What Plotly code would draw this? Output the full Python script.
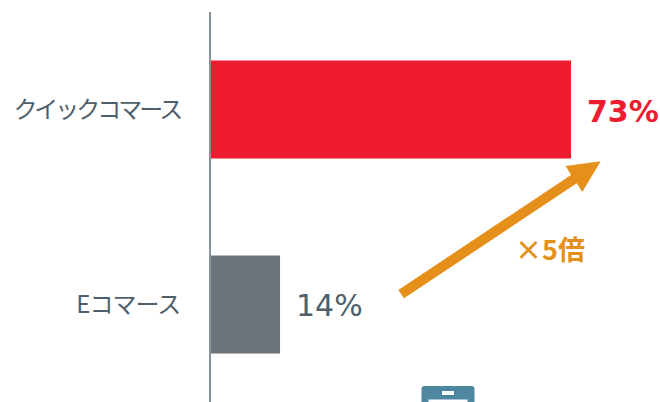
import plotly.graph_objects as go

categories = ["クイックコマース", "Eコマース"]
shares = [73, 14]
share_labels = ["73%", "14%"]
bar_colors = ["#EE1C2E", "#6A747A"]
label_colors = ["#EE1C2E", "#4E5F6B"]
label_weights = ["bold", "normal"]
multiplier_label = "×5倍"
category_tracking = ["-3px", "-1px"]

WIDTH, HEIGHT = 660, 402
LEFT, TOP = 211, 12
PLOT_W, PLOT_H = WIDTH - LEFT, HEIGHT - TOP
PX_PER_PERCENT = 4.932


def px(x):
    return (x - LEFT) / PLOT_W


def py(y):
    return 1 - (y - TOP) / PLOT_H


def polygon(points):
    return "M" + " L".join(f"{px(x):.5f},{py(y):.5f}" for x, y in points) + " Z"


def rounded_top(x0, x1, y0, y1, r):
    return (
        f"M{px(x0):.5f},{py(y1):.5f} L{px(x0):.5f},{py(y0 + r):.5f} "
        f"Q{px(x0):.5f},{py(y0):.5f} {px(x0 + r):.5f},{py(y0):.5f} "
        f"L{px(x1 - r):.5f},{py(y0):.5f} "
        f"Q{px(x1):.5f},{py(y0):.5f} {px(x1):.5f},{py(y0 + r):.5f} "
        f"L{px(x1):.5f},{py(y1):.5f} Z"
    )


# Growth arrow between the two bars
arrow_outline = [
    (398.3, 290), (571, 175), (565.7, 166), (600.7, 161.3),
    (582.3, 192), (576.7, 183.3), (404, 298.3),
]

shapes = [
    dict(type="path", xref="paper", yref="paper", path=polygon(arrow_outline),
         fillcolor="#E5901A", line_width=0, layer="above"),
    # Top edge of the smartphone icon, cut off by the page bottom
    dict(type="path", xref="paper", yref="paper",
         path=rounded_top(421.5, 474.5, 386, 404, 3),
         fillcolor="#4F86A0", line_width=0, layer="above"),
    dict(type="rect", xref="paper", yref="paper",
         x0=px(442), x1=px(454), y0=py(395), y1=py(391),
         fillcolor="white", line_width=0, layer="above"),
    dict(type="rect", xref="paper", yref="paper",
         x0=px(428.5), x1=px(467.5), y0=py(404), y1=py(399.5),
         fillcolor="white", line_width=0, layer="above"),
]

annotations = [
    dict(x=v, y=c, xref="x", yref="y", text=t, showarrow=False,
         xanchor="left", xshift=14, yshift=-1 if w == "normal" else -2,
         font=dict(family="DejaVu Sans", size=30, color=col, weight=w))
    for v, c, t, col, w in zip(shares, categories, share_labels,
                               label_colors, label_weights)
]
annotations.append(
    dict(x=px(550), y=py(250), xref="paper", yref="paper", text=multiplier_label,
         showarrow=False, xanchor="center", yanchor="middle", yshift=2,
         font=dict(family="Noto Sans CJK JP, DejaVu Sans", size=27,
                   color="#E5901A", weight="bold"))
)

# Tighter tracking on the axis labels, set per label
tick_labels = [
    f'<span style="letter-spacing:{s}">{c}</span>'
    for c, s in zip(categories, category_tracking)
]

fig = go.Figure(
    go.Bar(
        x=shares,
        y=categories,
        orientation="h",
        marker=dict(color=bar_colors, line_width=0),
        hoverinfo="skip",
    )
)
fig.update_layout(
    width=WIDTH,
    height=HEIGHT,
    margin=dict(l=LEFT, r=0, t=TOP, b=0, pad=0),
    paper_bgcolor="white",
    plot_bgcolor="white",
    showlegend=False,
    bargap=0.497,
    shapes=shapes,
    annotations=annotations,
    xaxis=dict(range=[0, PLOT_W / PX_PER_PERCENT], visible=False),
    yaxis=dict(
        autorange="reversed",
        showline=True,
        linecolor="#87929A",
        linewidth=2,
        showgrid=False,
        ticks="",
        tickmode="array",
        tickvals=categories,
        ticktext=tick_labels,
        ticklabelstandoff=24,
        tickfont=dict(family="Noto Sans CJK JP", size=24, color="#4E5F6B"),
    ),
)
fig.write_html("out.html", config=dict(displayModeBar=False))
